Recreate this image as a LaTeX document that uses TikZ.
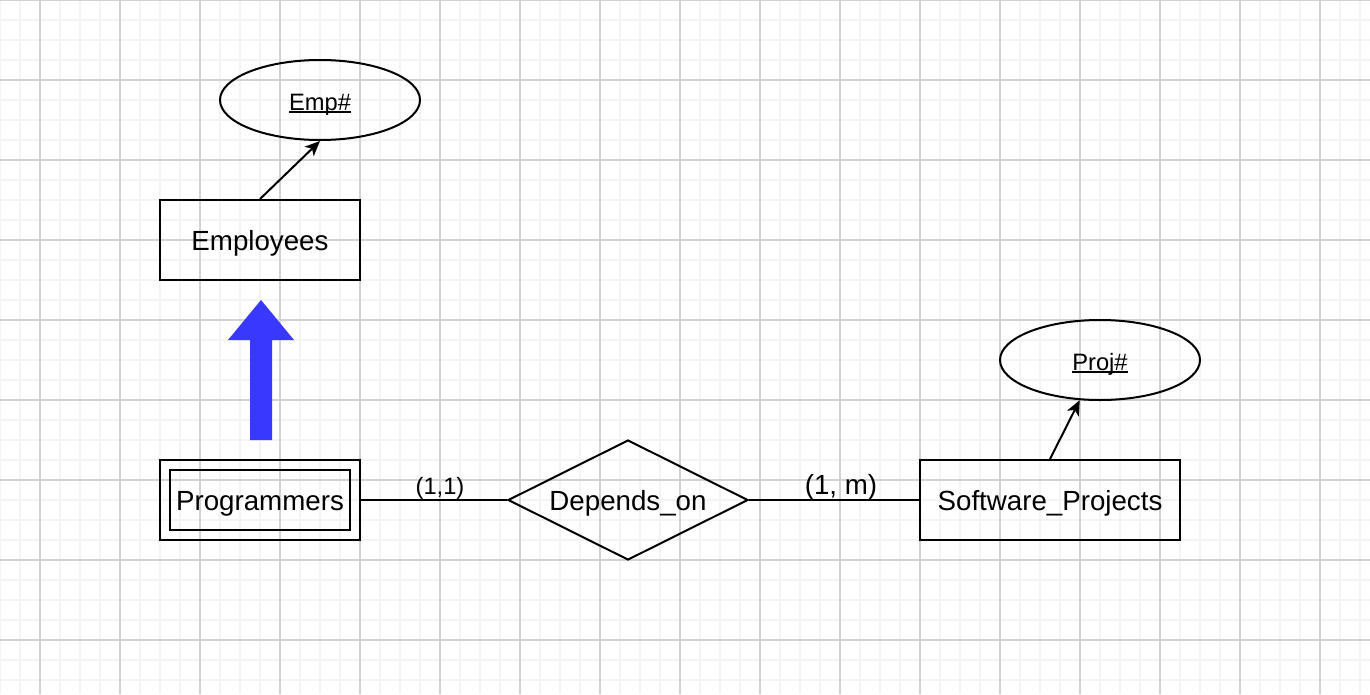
\documentclass[tikz,border=0pt]{standalone}
\usepackage{fontspec}
\setmainfont{Liberation Sans}
\usetikzlibrary{shapes.geometric,arrows.meta}
\definecolor{gridminor}{RGB}{243,243,243}
\definecolor{gridmajor}{RGB}{210,210,210}
\definecolor{isablue}{RGB}{56,56,255}
\newcommand{\uln}[1]{\setbox0\hbox{#1}\rlap{\rule[-2.8pt]{\wd0}{1.8pt}}\box0}
\tikzset{
  minorline/.style={draw=gridminor,line width=1.4pt},
  majorline/.style={draw=gridmajor,line width=1.2pt},
  entity/.style={draw,line width=2pt,rectangle,minimum height=80pt,inner sep=0pt,text height=24pt,text depth=4pt,font=\fontsize{27.7}{33}\selectfont},
  attrib/.style={draw,line width=2pt,ellipse,minimum width=200pt,minimum height=80pt,inner sep=0pt,text height=22pt,text depth=2pt,font=\fontsize{23.7}{28}\selectfont},
  relation/.style={draw,line width=2pt,diamond,shape aspect=2,minimum width=240pt,minimum height=120pt,inner sep=0pt,text height=24pt,text depth=4pt,font=\fontsize{27.7}{33}\selectfont},
  conn/.style={line width=2pt},
  attrarrow/.style={line width=2pt,-{Stealth[length=15pt,width=13pt,inset=4pt]}},
  cardsmall/.style={font=\fontsize{23.7}{28}\selectfont,inner sep=0pt},
  cardbig/.style={font=\fontsize{27.7}{33}\selectfont,inner sep=0pt}
}
\begin{document}
\begin{tikzpicture}[x=1pt,y=-1pt]
\useasboundingbox (0,0) rectangle (1370,694);
\fill[white] (0,0) rectangle (1370,694);
% grid
\foreach \x in {0,20,...,1360} \draw[minorline] (\x,0) -- (\x,694);
\foreach \y in {20,40,...,680} \draw[minorline] (0,\y) -- (1370,\y);
\foreach \x in {40,120,...,1320} \draw[majorline] (\x,0) -- (\x,694);
\foreach \y in {0,80,...,640} \draw[majorline] (0,\y) -- (1370,\y);

% nodes
\node[attrib] (emp) at (320,100) {\uln{Emp\#}};
\node[entity,minimum width=200pt] (employees) at (260,240) {Employees};
\node[entity,minimum width=200pt] (prog) at (260,500) {};
\node[entity,minimum width=180pt,minimum height=60pt] (progin) at (260,500) {Programmers};
\node[relation] (dep) at (628,500) {Depends\_on};
\node[entity,minimum width=260pt] (sp) at (1050,500) {Software\_Projects};
\node[attrib] (proj) at (1100,360) {\uln{Proj\#}};

% connectors
\draw[attrarrow] (employees.north) -- (emp.south);
\draw[attrarrow] (sp.north) -- (proj);
\draw[conn] (prog.east) -- (dep.west);
\draw[conn] (dep.east) -- (sp.west);

% cardinalities
\node[cardsmall] (c11) at (440,488) {(1,1)};
\node[cardbig] (c1m) at (841,487) {(1, m)};

% is-a arrow
\fill[isablue] (250,440) -- (250,340) -- (228,340) -- (261,300) -- (294,340) -- (272,340) -- (272,440) -- cycle;
\end{tikzpicture}
\end{document}
